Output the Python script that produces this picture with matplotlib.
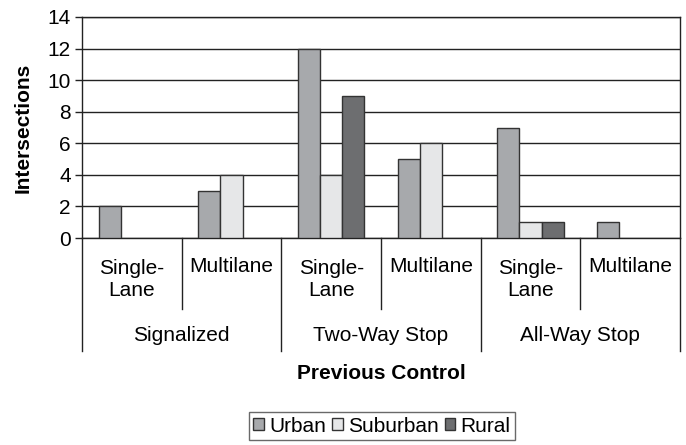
import matplotlib
matplotlib.use('Agg')
import matplotlib.pyplot as plt
import numpy as np

plt.rcParams['font.family'] = ['Liberation Sans', 'DejaVu Sans']

controls = ['Signalized', 'Two-Way Stop', 'All-Way Stop']
lanes = ['Single-\nLane', 'Multilane', 'Single-\nLane', 'Multilane', 'Single-\nLane', 'Multilane']
urban = [2, 3, 12, 5, 7, 1]
suburban = [0, 4, 4, 6, 1, 0]
rural = [0, 0, 9, 0, 1, 0]

colors = {'Urban': '#a7a9ac', 'Suburban': '#e6e7e8', 'Rural': '#6d6e70'}
fs = 15

fig = plt.figure(figsize=(6.86, 4.45), dpi=100)
ax = fig.add_axes([82 / 686, 1 - 238 / 445, 598 / 686, 221 / 445])

x = np.arange(len(lanes))
w = 0.222
for off, vals, name in [(-w, urban, 'Urban'), (0, suburban, 'Suburban'), (w, rural, 'Rural')]:
    v = np.array(vals, dtype=float)
    mask = v > 0
    ax.bar(x[mask] + off, v[mask], w, color=colors[name], edgecolor='#333333',
           linewidth=1, zorder=3, label=name)

ax.set_xlim(-0.5, len(lanes) - 0.5)
ax.set_ylim(0, 14)
ax.set_yticks(range(0, 15, 2))
ax.tick_params(axis='y', labelsize=fs, length=5, width=1, color='#222222', pad=3)
ax.set_xticks([])
ax.grid(axis='y', color='#222222', linewidth=1, zorder=0)
for s in ax.spines.values():
    s.set_color('#222222')
    s.set_linewidth(1)
fig.text(23 / 686, 1 - 127.5 / 445, 'Intersections', rotation=90, ha='center',
         va='center', fontsize=fs, fontweight='bold')

# multi-level category axis below the plot
tr = ax.get_xaxis_transform()
sub_end = -0.321
grp_end = -0.511
for i in range(len(lanes) + 1):
    b = i - 0.5
    end = grp_end if i % 2 == 0 else sub_end
    ax.plot([b, b], [0, end], transform=tr, color='#222222', lw=1, clip_on=False)
for i, lab in enumerate(lanes):
    if '\n' in lab:
        ax.text(i, -0.188, lab, transform=tr, ha='center', va='center',
                fontsize=fs, linespacing=1.15)
    else:
        ax.text(i, -0.131, lab, transform=tr, ha='center', va='center', fontsize=fs)
for j, c in enumerate(controls):
    ax.text(2 * j + 0.5, -0.439, c, transform=tr, ha='center', va='center', fontsize=fs)
ax.text(2.5, -0.611, 'Previous Control', transform=tr, ha='center', va='center',
        fontsize=fs, fontweight='bold')

leg = fig.legend(loc='center', bbox_to_anchor=(382 / 686, 1 - 426 / 445), ncol=3,
                 fontsize=fs, frameon=True, fancybox=False, handlelength=0.5,
                 handleheight=0.5, handletextpad=0.25, columnspacing=0.3,
                 borderpad=0.2, borderaxespad=0)
leg.get_frame().set_edgecolor('#444444')
leg.get_frame().set_linewidth(1)

fig.savefig('out.png', dpi=100)
